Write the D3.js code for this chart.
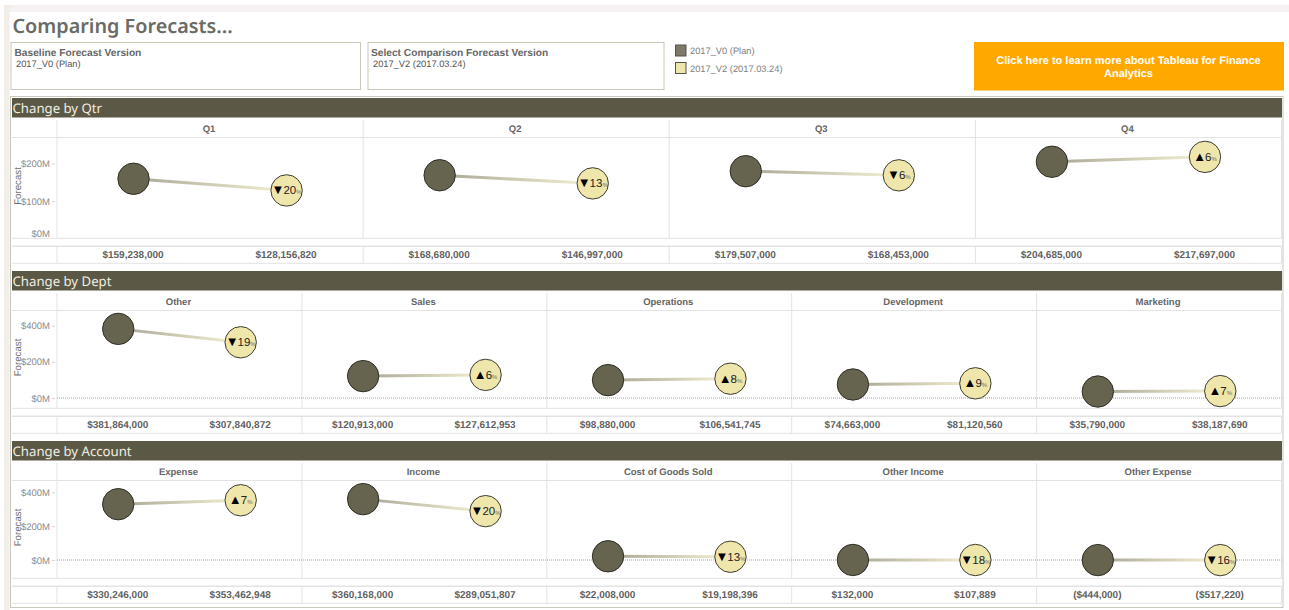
<!DOCTYPE html>
<html>
<head>
<meta charset="utf-8">
<script src="https://cdn.jsdelivr.net/npm/d3@7"></script>
<style>
  html, body { margin: 0; padding: 0; background: #fff; overflow: hidden; }
  svg { display: block; text-rendering: geometricPrecision; }
  text { font-family: "Liberation Sans", Arial, sans-serif; }
  .heading { font-family: "Noto Sans", sans-serif; }
</style>
</head>
<body>
<div id="chart"></div>
<script>
const width = 1289;
const height = 610;

const versions = ["2017_V0 (Plan)", "2017_V2 (2017.03.24)"];
const versionColors = ["#66634f", "#efe6ab"];

const qtrNames = ["Q1", "Q2", "Q3", "Q4"];
const qtrBase = [159238000, 168680000, 179507000, 204685000];
const qtrComp = [128156820, 146997000, 168453000, 217697000];
const qtrPct = ["▼20", "▼13", "▼6", "▲6"];

const deptNames = ["Other", "Sales", "Operations", "Development", "Marketing"];
const deptBase = [381864000, 120913000, 98880000, 74663000, 35790000];
const deptComp = [307840872, 127612953, 106541745, 81120560, 38187690];
const deptPct = ["▼19", "▲6", "▲8", "▲9", "▲7"];

const acctNames = ["Expense", "Income", "Cost of Goods Sold", "Other Income", "Other Expense"];
const acctBase = [330246000, 360168000, 22008000, 132000, -444000];
const acctComp = [353462948, 289051807, 19198396, 107889, -517220];
const acctPct = ["▲7", "▼20", "▼13", "▼18", "▼16"];

const qtrTicks = [0, 100000000, 200000000];
const bigTicks = [0, 200000000, 400000000];

const sections = [
  { title: "Change by Qtr", names: qtrNames, base: qtrBase, comp: qtrComp, pct: qtrPct, ticks: qtrTicks,
    top: 98, zeroY: 238.5, perMillion: 0.375, plotBottom: 238.3, dotted: false },
  { title: "Change by Dept", names: deptNames, base: deptBase, comp: deptComp, pct: deptPct, ticks: bigTicks,
    top: 271, zeroY: 398, perMillion: 0.181, plotBottom: 408.3, dotted: true },
  { title: "Change by Account", names: acctNames, base: acctBase, comp: acctComp, pct: acctPct, ticks: bigTicks,
    top: 441, zeroY: 560, perMillion: 0.169, plotBottom: 578.3, dotted: true }
];

const left = 12, plotLeft = 57, right = 1281.5;
const gridColor = "#e3e3e3";
const dollars = d3.format("$,");
const money = v => v < 0 ? `(${dollars(-v)})` : dollars(v);
const axisLabel = v => `$${v / 1000000}M`;

const svg = d3.select("#chart").append("svg")
  .attr("width", width)
  .attr("height", height);

const defs = svg.append("defs");

// page edges
svg.append("rect").attr("x", 4).attr("y", 5).attr("width", width - 4).attr("height", 7).attr("fill", "#f6f0f0");
svg.append("rect").attr("x", 4).attr("y", 5).attr("width", 5.5).attr("height", height - 5).attr("fill", "#f1eeea");

svg.append("text")
  .attr("class", "heading")
  .attr("x", 12.5).attr("y", 32.5)
  .attr("font-size", 19.8).attr("font-weight", 600)
  .attr("fill", "#6a6a66")
  .text("Comparing Forecasts...");

// filter boxes
const filters = [
  { x: 11, w: 349.5, label: "Baseline Forecast Version", value: versions[0], tx: 14.5, vx: 16 },
  { x: 368, w: 296, label: "Select Comparison Forecast Version", value: versions[1], tx: 371, vx: 373 }
];
filters.forEach(f => {
  svg.append("rect").attr("x", f.x).attr("y", 42.5).attr("width", f.w).attr("height", 47)
    .attr("fill", "#fff").attr("stroke", "#c9c8b6");
  svg.append("text").attr("x", f.tx).attr("y", 56).attr("font-size", 10.2).attr("font-weight", "bold")
    .attr("fill", "#666").text(f.label);
  svg.append("text").attr("x", f.vx).attr("y", 66.5).attr("font-size", 9.3)
    .attr("fill", "#555").text(f.value);
});

// colour legend
const legendY = d3.scalePoint().domain(versions).range([50.5, 68]);
versions.forEach((v, i) => {
  svg.append("rect").attr("x", 675.5).attr("y", legendY(v) - 5.5).attr("width", 10.5).attr("height", 11)
    .attr("fill", versionColors[i]).attr("fill-opacity", i === 0 ? 0.85 : 1)
    .attr("stroke", "#55534a");
  svg.append("text").attr("x", 690).attr("y", legendY(v) + 3.5).attr("font-size", 9.3)
    .attr("fill", "#808080").text(v);
});

// link button
svg.append("rect").attr("x", 974).attr("y", 42).attr("width", 310).attr("height", 48.5).attr("fill", "#ffa900");
const button = svg.append("text").attr("text-anchor", "middle").attr("font-size", 11)
  .attr("font-weight", "bold").attr("fill", "#fff");
button.append("tspan").attr("x", 1128.5).attr("y", 63.5).text("Click here to learn more about Tableau for Finance");
button.append("tspan").attr("x", 1128.5).attr("y", 76.5).text("Analytics");

// dashboard frame
svg.append("rect").attr("x", 10.5).attr("y", 96.5).attr("width", 1272.5).attr("height", 511)
  .attr("fill", "none").attr("stroke", "#c9c8ba");

sections.forEach((s, si) => {
  const g = svg.append("g");
  const headTop = s.top + 22;
  const headBottom = s.top + 39.5;
  const valueTop = s.plotBottom + 8;
  const valueBottom = s.plotBottom + 25;

  g.append("rect").attr("x", left).attr("y", s.top).attr("width", 1270).attr("height", 19.5).attr("fill", "#5c5846");
  g.append("text").attr("class", "heading").attr("x", 12.5).attr("y", s.top + 14.5)
    .attr("font-size", 13.2).attr("fill", "#f0eee0").text(s.title);

  const col = d3.scaleBand().domain(s.names).range([plotLeft, right]);
  const side = d3.scalePoint().domain(["base", "comp"]).range([0.25, 0.75]);
  const y = d3.scaleLinear()
    .domain([0, 1000000])
    .range([s.zeroY, s.zeroY - s.perMillion]);

  // grid frame
  [headBottom, s.plotBottom, valueTop, valueBottom].forEach((ly, i) => {
    g.append("line").attr("x1", left).attr("x2", right).attr("y1", ly).attr("y2", ly)
      .attr("stroke", gridColor).attr("stroke-width", i === 2 ? 1.6 : 1);
  });
  const edges = [plotLeft, ...s.names.slice(1).map(n => col(n)), right];
  edges.forEach(ex => {
    g.append("line").attr("x1", ex).attr("x2", ex).attr("y1", headTop).attr("y2", s.plotBottom).attr("stroke", gridColor);
    g.append("line").attr("x1", ex).attr("x2", ex).attr("y1", valueTop).attr("y2", valueBottom).attr("stroke", gridColor);
  });

  if (s.dotted) {
    g.append("line").attr("x1", plotLeft).attr("x2", right).attr("y1", y(0)).attr("y2", y(0))
      .attr("stroke", "#8a8a8a").attr("stroke-width", 0.8).attr("stroke-dasharray", "1,1");
  }

  // value axis
  const axis = g.append("g")
    .attr("transform", `translate(${plotLeft - 2},0)`)
    .call(d3.axisLeft(y).tickValues(s.ticks).tickFormat(axisLabel).tickSize(3).tickPadding(2));
  axis.select(".domain").remove();
  axis.selectAll("line").attr("stroke", "#d5d5d5");
  axis.selectAll("text").attr("font-size", 9.5).attr("fill", "#8a8a8a");
  if (!s.dotted) {
    // lowest label is pushed up to stay in the pane
    axis.selectAll(".tick").filter(d => d === 0).select("line").remove();
    axis.selectAll(".tick").filter(d => d === 0).select("text").attr("dy", "-0.25em").attr("x", -5);
  }

  const plotMid = si === 0 ? 186 : si === 1 ? 357.5 : 527.5;
  g.append("text")
    .attr("transform", `translate(20.5,${plotMid}) rotate(-90)`)
    .attr("text-anchor", "middle").attr("font-size", 9.7).attr("fill", "#6e6e6e")
    .text("Forecast");

  s.names.forEach((name, i) => {
    const cx1 = col(name) + col.bandwidth() * side("base");
    const cx2 = col(name) + col.bandwidth() * side("comp");
    const cy1 = y(s.base[i]);
    const cy2 = y(s.comp[i]);

    g.append("text").attr("x", col(name) + col.bandwidth() / 2 - 1).attr("y", headTop + 11.5)
      .attr("text-anchor", "middle").attr("font-size", 9.5).attr("font-weight", "bold")
      .attr("fill", "#666").text(name);

    const gradId = `link-${si}-${i}`;
    const grad = defs.append("linearGradient").attr("id", gradId)
      .attr("gradientUnits", "userSpaceOnUse")
      .attr("x1", cx1).attr("y1", cy1).attr("x2", cx2).attr("y2", cy2);
    grad.append("stop").attr("offset", "0%").attr("stop-color", "#a8a695");
    grad.append("stop").attr("offset", "100%").attr("stop-color", "#f5f1d3");

    g.append("line").attr("x1", cx1).attr("y1", cy1).attr("x2", cx2).attr("y2", cy2)
      .attr("stroke", `url(#${gradId})`).attr("stroke-width", 3);

    g.append("circle").attr("cx", cx1).attr("cy", cy1).attr("r", 15.7)
      .attr("fill", versionColors[0]).attr("stroke", "#2f2e26").attr("stroke-width", 1);
    g.append("circle").attr("cx", cx2).attr("cy", cy2).attr("r", 15.7)
      .attr("fill", versionColors[1]).attr("stroke", "#3c3b30").attr("stroke-width", 1);

    const pct = g.append("text").attr("x", cx2).attr("y", cy2 + 4)
      .attr("text-anchor", "middle").attr("fill", "#222").attr("font-size", 11.5);
    pct.append("tspan").attr("font-size", 13).attr("fill", "#000").text(s.pct[i].slice(0, 1));
    pct.append("tspan").attr("dx", -1).text(s.pct[i].slice(1));
    pct.append("tspan").attr("font-size", 6).attr("fill", "#666").text("%");

    [[cx1, s.base[i]], [cx2, s.comp[i]]].forEach(([vx, v]) => {
      g.append("text").attr("x", vx - 0.5).attr("y", valueTop + 12)
        .attr("text-anchor", "middle").attr("font-size", 10).attr("font-weight", "bold")
        .attr("fill", "#5f5f5f").text(money(v));
    });
  });
});
</script>
</body>
</html>
